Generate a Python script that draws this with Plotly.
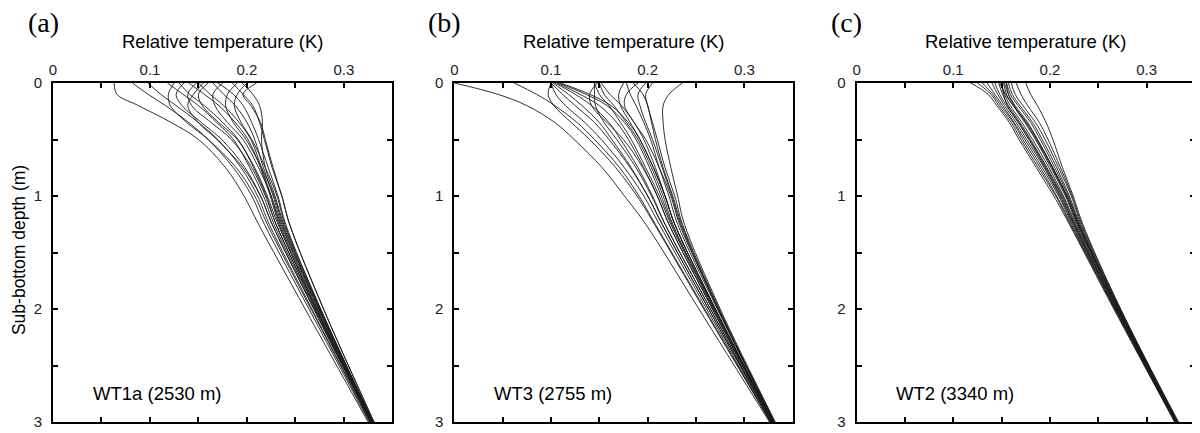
import plotly.graph_objects as go

# ---------------- data ----------------
depth_m = [0, 0.1, 0.2, 0.35, 0.5, 0.75, 1.0, 1.25, 2.0, 3.0]

wt1a_profiles = [
    [0.063, 0.066, 0.088, 0.122, 0.150, 0.178, 0.197, 0.212, 0.260, 0.325],
    [0.082, 0.098, 0.116, 0.140, 0.160, 0.186, 0.205, 0.218, 0.264, 0.326],
    [0.125, 0.119, 0.121, 0.138, 0.160, 0.189, 0.208, 0.221, 0.266, 0.327],
    [0.135, 0.127, 0.133, 0.153, 0.174, 0.198, 0.214, 0.226, 0.269, 0.328],
    [0.148, 0.139, 0.143, 0.163, 0.184, 0.205, 0.219, 0.230, 0.271, 0.328],
    [0.150, 0.162, 0.176, 0.192, 0.204, 0.215, 0.225, 0.234, 0.273, 0.329],
    [0.160, 0.150, 0.154, 0.171, 0.190, 0.208, 0.221, 0.232, 0.272, 0.329],
    [0.170, 0.186, 0.196, 0.205, 0.212, 0.222, 0.232, 0.240, 0.276, 0.330],
    [0.175, 0.165, 0.167, 0.180, 0.196, 0.212, 0.225, 0.235, 0.274, 0.329],
    [0.185, 0.196, 0.206, 0.213, 0.218, 0.226, 0.236, 0.244, 0.279, 0.331],
    [0.190, 0.180, 0.178, 0.186, 0.199, 0.215, 0.228, 0.237, 0.275, 0.330],
    [0.200, 0.190, 0.187, 0.194, 0.205, 0.219, 0.231, 0.239, 0.276, 0.330],
    [0.210, 0.196, 0.204, 0.214, 0.219, 0.227, 0.236, 0.244, 0.279, 0.331],
    [0.140, 0.156, 0.171, 0.188, 0.201, 0.214, 0.224, 0.233, 0.272, 0.329],
    [0.130, 0.141, 0.156, 0.175, 0.191, 0.207, 0.220, 0.230, 0.271, 0.328],
    [0.098, 0.111, 0.127, 0.150, 0.170, 0.194, 0.211, 0.223, 0.267, 0.327],
    [0.165, 0.176, 0.188, 0.200, 0.208, 0.217, 0.227, 0.236, 0.274, 0.329],
    [0.195, 0.206, 0.213, 0.216, 0.215, 0.219, 0.229, 0.238, 0.275, 0.330],
    [0.118, 0.134, 0.150, 0.169, 0.186, 0.203, 0.217, 0.228, 0.270, 0.328],
    [0.155, 0.145, 0.139, 0.150, 0.169, 0.196, 0.214, 0.226, 0.269, 0.328],
]

wt3_profiles = [
    [0.000, 0.045, 0.075, 0.104, 0.124, 0.153, 0.176, 0.198, 0.253, 0.326],
    [0.062, 0.085, 0.104, 0.127, 0.145, 0.171, 0.191, 0.208, 0.259, 0.327],
    [0.100, 0.097, 0.103, 0.121, 0.140, 0.167, 0.189, 0.207, 0.258, 0.327],
    [0.102, 0.118, 0.132, 0.150, 0.163, 0.183, 0.200, 0.215, 0.263, 0.328],
    [0.104, 0.125, 0.142, 0.160, 0.172, 0.190, 0.205, 0.218, 0.265, 0.328],
    [0.106, 0.130, 0.150, 0.168, 0.180, 0.196, 0.210, 0.222, 0.267, 0.329],
    [0.100, 0.112, 0.125, 0.145, 0.160, 0.182, 0.200, 0.215, 0.263, 0.328],
    [0.108, 0.136, 0.158, 0.176, 0.188, 0.202, 0.214, 0.225, 0.269, 0.329],
    [0.145, 0.145, 0.146, 0.155, 0.168, 0.188, 0.204, 0.218, 0.265, 0.328],
    [0.148, 0.140, 0.142, 0.158, 0.175, 0.195, 0.210, 0.222, 0.267, 0.329],
    [0.150, 0.155, 0.165, 0.178, 0.190, 0.204, 0.216, 0.226, 0.269, 0.330],
    [0.152, 0.161, 0.173, 0.186, 0.196, 0.208, 0.218, 0.228, 0.270, 0.330],
    [0.175, 0.170, 0.172, 0.182, 0.192, 0.206, 0.218, 0.228, 0.270, 0.330],
    [0.178, 0.182, 0.188, 0.196, 0.203, 0.212, 0.222, 0.231, 0.272, 0.331],
    [0.190, 0.178, 0.176, 0.186, 0.198, 0.212, 0.224, 0.233, 0.273, 0.331],
    [0.198, 0.190, 0.192, 0.198, 0.205, 0.215, 0.225, 0.234, 0.273, 0.331],
    [0.205, 0.198, 0.200, 0.205, 0.210, 0.218, 0.228, 0.236, 0.274, 0.331],
    [0.236, 0.222, 0.216, 0.216, 0.218, 0.224, 0.231, 0.238, 0.275, 0.332],
    [0.110, 0.140, 0.162, 0.180, 0.192, 0.206, 0.218, 0.228, 0.270, 0.330],
    [0.145, 0.150, 0.160, 0.172, 0.183, 0.198, 0.212, 0.224, 0.268, 0.329],
    [0.185, 0.195, 0.200, 0.204, 0.208, 0.216, 0.226, 0.235, 0.273, 0.331],
    [0.100, 0.105, 0.115, 0.135, 0.152, 0.176, 0.196, 0.212, 0.261, 0.327],
]

wt2_profiles = [
    [0.118, 0.136, 0.145, 0.158, 0.168, 0.186, 0.204, 0.220, 0.266, 0.329],
    [0.125, 0.139, 0.147, 0.160, 0.170, 0.188, 0.206, 0.221, 0.267, 0.329],
    [0.130, 0.141, 0.149, 0.162, 0.172, 0.190, 0.207, 0.222, 0.267, 0.330],
    [0.135, 0.143, 0.151, 0.163, 0.174, 0.192, 0.209, 0.223, 0.268, 0.330],
    [0.140, 0.146, 0.153, 0.165, 0.176, 0.194, 0.210, 0.224, 0.268, 0.330],
    [0.143, 0.148, 0.155, 0.167, 0.178, 0.195, 0.211, 0.225, 0.269, 0.330],
    [0.147, 0.151, 0.157, 0.169, 0.180, 0.197, 0.213, 0.226, 0.269, 0.331],
    [0.150, 0.153, 0.159, 0.171, 0.182, 0.199, 0.214, 0.227, 0.270, 0.331],
    [0.152, 0.155, 0.162, 0.174, 0.185, 0.201, 0.216, 0.228, 0.270, 0.331],
    [0.153, 0.157, 0.164, 0.177, 0.187, 0.203, 0.217, 0.229, 0.271, 0.331],
    [0.155, 0.159, 0.167, 0.180, 0.190, 0.205, 0.219, 0.230, 0.271, 0.332],
    [0.157, 0.161, 0.169, 0.182, 0.192, 0.207, 0.220, 0.231, 0.272, 0.332],
    [0.160, 0.164, 0.172, 0.185, 0.195, 0.209, 0.222, 0.232, 0.272, 0.332],
    [0.165, 0.170, 0.177, 0.189, 0.198, 0.211, 0.223, 0.233, 0.273, 0.332],
    [0.175, 0.180, 0.187, 0.196, 0.203, 0.213, 0.224, 0.234, 0.273, 0.333],
    [0.150, 0.152, 0.156, 0.168, 0.179, 0.196, 0.212, 0.225, 0.269, 0.330],
    [0.155, 0.157, 0.163, 0.175, 0.186, 0.202, 0.217, 0.229, 0.271, 0.331],
    [0.148, 0.154, 0.162, 0.176, 0.187, 0.203, 0.218, 0.230, 0.271, 0.331],
]

panel_letters = ["(a)", "(b)", "(c)"]
station_labels = ["WT1a (2530 m)", "WT3 (2755 m)", "WT2 (3340 m)"]
x_title = "Relative temperature (K)"
y_title = "Sub-bottom depth (m)"
x_tickvals = [0, 0.05, 0.1, 0.15, 0.2, 0.25, 0.3, 0.35]
x_ticktext = ["0", "", "0.1", "", "0.2", "", "0.3", ""]
y_tickvals = [0, 0.5, 1, 1.5, 2, 2.5, 3]
y_ticktext = ["0", "", "1", "", "2", "", "3"]

# ---------------- layout geometry (window pixels) ----------------
# The page body has an 8px margin, so the figure is shrunk/shifted to fit.
OFF = 8
W, H = 1200 - OFF, 433 - OFF
PLOT_L, PLOT_R, PLOT_T, PLOT_B = 53, 1197, 83, 422  # in window pixels
ML, MT = PLOT_L - OFF, PLOT_T - OFF
MR = (W + OFF) - PLOT_R
MB = (H + OFF) - PLOT_B
PW = PLOT_R - PLOT_L
PH = PLOT_B - PLOT_T
panels_px = [(53, 393), (455, 794), (858, 1197)]


def px_x(p):
    return (p - PLOT_L) / PW


def px_y(p):
    return (PLOT_B - p) / PH


SANS = "Liberation Sans, Arial, sans-serif"
SERIF = "Liberation Serif, Times New Roman, serif"

fig = go.Figure()
all_profiles = [wt1a_profiles, wt3_profiles, wt2_profiles]

for i, profiles in enumerate(all_profiles):
    sfx = "" if i == 0 else str(i + 1)
    for prof in profiles:
        fig.add_trace(go.Scatter(
            x=prof, y=depth_m, mode="lines",
            line=dict(color="#1a1a1a", width=0.9, shape="spline", smoothing=1.0),
            xaxis="x" + sfx, yaxis="y" + sfx, showlegend=False, hoverinfo="skip",
        ))

axis_common = dict(
    showline=True, linewidth=2, linecolor="black", mirror="allticks",
    ticks="inside", ticklen=5, tickwidth=2, tickcolor="black",
    showgrid=False, zeroline=False,
    tickfont=dict(family=SANS, size=15, color="#222"),
)

layout = dict(
    width=W, height=H,
    margin=dict(l=ML, r=MR, t=MT, b=MB, pad=0),
    paper_bgcolor="white", plot_bgcolor="white",
    showlegend=False,
)
annotations = []
for i, (p0, p1) in enumerate(panels_px):
    sfx = "" if i == 0 else str(i + 1)
    layout["xaxis" + sfx] = dict(
        axis_common, domain=[px_x(p0), px_x(p1)], range=[0, 0.35], side="top",
        anchor="y" + sfx, tickvals=x_tickvals, ticktext=x_ticktext,
        ticklabelstandoff=0,
    )
    layout["yaxis" + sfx] = dict(
        axis_common, domain=[0, 1], range=[3, 0], anchor="x" + sfx,
        tickvals=y_tickvals, ticktext=y_ticktext, ticklabelstandoff=6,
    )
    annotations.append(dict(
        text=panel_letters[i], xref="paper", yref="paper",
        x=px_x(p0 - 10), y=px_y(22), xanchor="center", yanchor="middle",
        showarrow=False, font=dict(family=SERIF, size=28, color="black"),
    ))
    annotations.append(dict(
        text=x_title, xref="paper", yref="paper",
        x=px_x((p0 + p1) / 2), y=px_y(42), xanchor="center", yanchor="middle",
        showarrow=False, font=dict(family=SANS, size=18.5, color="black"),
    ))
    annotations.append(dict(
        text=station_labels[i], xref="x" + sfx, yref="y" + sfx,
        x=0.039, y=2.75, xanchor="left", yanchor="middle",
        showarrow=False, font=dict(family=SANS, size=18.5, color="black"),
    ))

annotations.append(dict(
    text=y_title, xref="paper", yref="paper", textangle=-90,
    x=px_x(19), y=px_y(250), xanchor="center", yanchor="middle",
    showarrow=False, font=dict(family=SANS, size=17.5, color="black"),
))
layout["annotations"] = annotations
fig.update_layout(**layout)

fig.write_html("out.html")
